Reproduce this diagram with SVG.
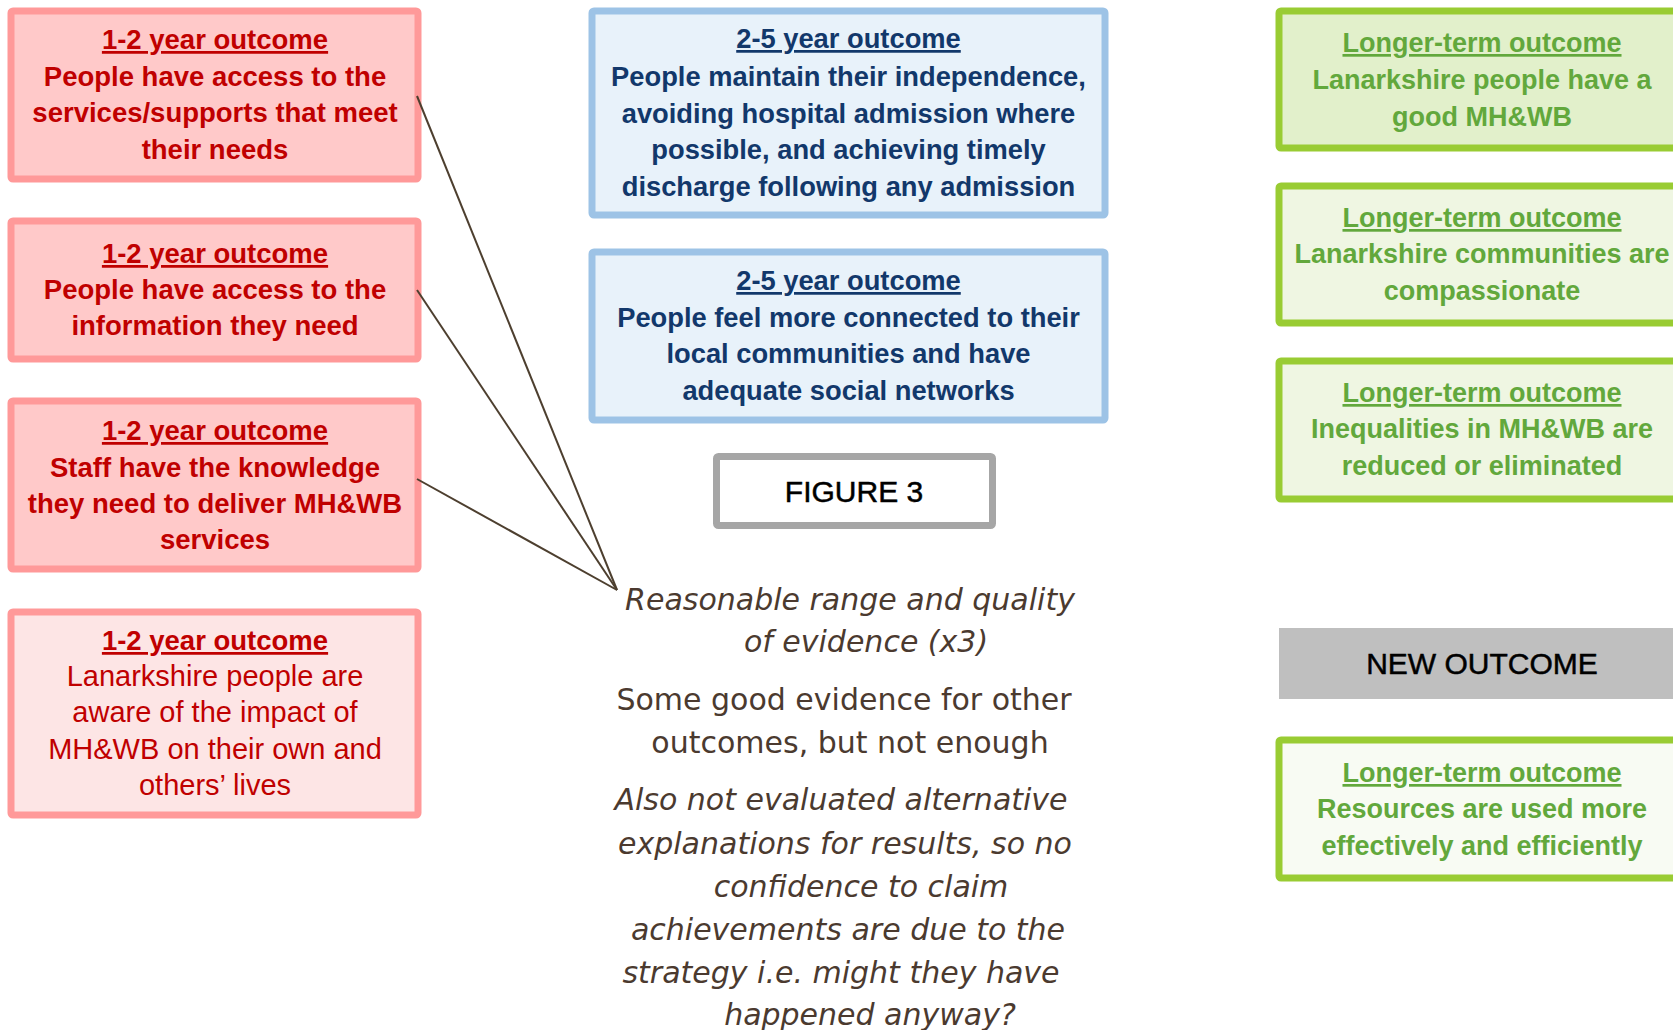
<svg xmlns="http://www.w3.org/2000/svg" width="1673" height="1030" viewBox="0 0 1673 1030">
  <style>
    text { text-anchor: middle; }
    .box { stroke-width: 7; }
    .red { fill: #FFC9C9; stroke: #FF9999; }
    .red-lt { fill: #FDE5E5; stroke: #FF9999; }
    .blue { fill: #E8F2FA; stroke: #9DC3E6; }
    .green1 { fill: #E2F0CB; stroke: #99CC33; }
    .green2 { fill: #EFF6E2; stroke: #99CC33; }
    .green3 { fill: #F8FBF3; stroke: #99CC33; }
    .t-red { font-family: "Liberation Sans", Arial, sans-serif; font-size: 27.5px; font-weight: bold; fill: #C00000; }
    .t-red-reg { font-family: "Liberation Sans", Arial, sans-serif; font-size: 29px; fill: #C00000; }
    .t-blue { font-family: "Liberation Sans", Arial, sans-serif; font-size: 27.3px; font-weight: bold; fill: #12386B; }
    .t-green { font-family: "Liberation Sans", Arial, sans-serif; font-size: 27px; font-weight: bold; fill: #62A83C; }
    .u { text-decoration: underline; }
    .t-note { font-family: "DejaVu Sans", sans-serif; font-size: 30px; fill: #4B3A2F; }
    .it { font-style: italic; }
    .t-label { font-family: "Liberation Sans", Arial, sans-serif; font-size: 30px; fill: #000000; stroke: #000000; stroke-width: 0.5; }
    .link { stroke: #4D3F2F; stroke-width: 2; fill: none; }
  </style>

  <!-- 1-2 year outcomes -->
  <g id="short-1">
    <rect class="box red" x="11" y="11" width="407" height="168" rx="2"/>
    <text class="t-red u" x="215" y="49">1-2 year outcome</text>
    <text class="t-red" x="215" y="86">People have access to the</text>
    <text class="t-red" x="215" y="122">services/supports that meet</text>
    <text class="t-red" x="215" y="159">their needs</text>
  </g>
  <g id="short-2">
    <rect class="box red" x="11" y="221" width="407" height="138" rx="2"/>
    <text class="t-red u" x="215" y="263">1-2 year outcome</text>
    <text class="t-red" x="215" y="299">People have access to the</text>
    <text class="t-red" x="215" y="335">information they need</text>
  </g>
  <g id="short-3">
    <rect class="box red" x="11" y="401" width="407" height="168" rx="2"/>
    <text class="t-red u" x="215" y="440">1-2 year outcome</text>
    <text class="t-red" x="215" y="477">Staff have the knowledge</text>
    <text class="t-red" x="215" y="513">they need to deliver MH&amp;WB</text>
    <text class="t-red" x="215" y="549">services</text>
  </g>
  <g id="short-4">
    <rect class="box red-lt" x="11" y="612" width="407" height="203" rx="2"/>
    <text class="t-red u" x="215" y="650">1-2 year outcome</text>
    <text class="t-red-reg" x="215" y="686">Lanarkshire people are</text>
    <text class="t-red-reg" x="215" y="722">aware of the impact of</text>
    <text class="t-red-reg" x="215" y="759">MH&amp;WB on their own and</text>
    <text class="t-red-reg" x="215" y="795">others’ lives</text>
  </g>

  <!-- 2-5 year outcomes -->
  <g id="mid-1">
    <rect class="box blue" x="592" y="11" width="513" height="204" rx="2"/>
    <text class="t-blue u" x="848.5" y="48">2-5 year outcome</text>
    <text class="t-blue" x="848.5" y="86">People maintain their independence,</text>
    <text class="t-blue" x="848.5" y="123">avoiding hospital admission where</text>
    <text class="t-blue" x="848.5" y="159">possible, and achieving timely</text>
    <text class="t-blue" x="848.5" y="196">discharge following any admission</text>
  </g>
  <g id="mid-2">
    <rect class="box blue" x="592" y="252" width="513" height="168" rx="2"/>
    <text class="t-blue u" x="848.5" y="290">2-5 year outcome</text>
    <text class="t-blue" x="848.5" y="327">People feel more connected to their</text>
    <text class="t-blue" x="848.5" y="363">local communities and have</text>
    <text class="t-blue" x="848.5" y="400">adequate social networks</text>
  </g>

  <!-- figure label -->
  <g id="figure-label">
    <rect x="716.5" y="456.5" width="276" height="69" fill="#FFFFFF" stroke="#A6A6A6" stroke-width="7" rx="2"/>
    <text class="t-label" x="854" y="502">FIGURE 3</text>
  </g>

  <!-- evidence note -->
  <g id="evidence-note">
    <text class="t-note it" x="850" y="610">Reasonable range and quality</text>
    <text class="t-note it" x="866" y="652">of evidence (x3)</text>
    <text class="t-note" x="844" y="710">Some good evidence for other</text>
    <text class="t-note" x="850" y="753">outcomes, but not enough</text>
    <text class="t-note it" x="841" y="810">Also not evaluated alternative</text>
    <text class="t-note it" x="845" y="854">explanations for results, so no</text>
    <text class="t-note it" x="861" y="897">confidence to claim</text>
    <text class="t-note it" x="848" y="940">achievements are due to the</text>
    <text class="t-note it" x="841" y="983">strategy i.e. might they have</text>
    <text class="t-note it" x="870" y="1025">happened anyway?</text>
  </g>

  <!-- longer-term outcomes -->
  <g id="long-1">
    <rect class="box green1" x="1279" y="11" width="420" height="137" rx="2"/>
    <text class="t-green u" x="1482" y="52">Longer-term outcome</text>
    <text class="t-green" x="1482" y="89">Lanarkshire people have a</text>
    <text class="t-green" x="1482" y="126">good MH&amp;WB</text>
  </g>
  <g id="long-2">
    <rect class="box green2" x="1279" y="186" width="420" height="137" rx="2"/>
    <text class="t-green u" x="1482" y="227">Longer-term outcome</text>
    <text class="t-green" x="1482" y="263">Lanarkshire communities are</text>
    <text class="t-green" x="1482" y="300">compassionate</text>
  </g>
  <g id="long-3">
    <rect class="box green2" x="1279" y="361" width="420" height="138" rx="2"/>
    <text class="t-green u" x="1482" y="402">Longer-term outcome</text>
    <text class="t-green" x="1482" y="438">Inequalities in MH&amp;WB are</text>
    <text class="t-green" x="1482" y="475">reduced or eliminated</text>
  </g>

  <g id="new-outcome-label">
    <rect x="1279" y="628" width="420" height="71" fill="#BFBFBF"/>
    <text class="t-label" x="1482" y="674">NEW OUTCOME</text>
  </g>

  <g id="long-4">
    <rect class="box green3" x="1279" y="740" width="420" height="138" rx="2"/>
    <text class="t-green u" x="1482" y="782">Longer-term outcome</text>
    <text class="t-green" x="1482" y="818">Resources are used more</text>
    <text class="t-green" x="1482" y="855">effectively and efficiently</text>
  </g>

  <!-- connectors: three short-term outcomes converge on the evidence note -->
  <g id="connectors">
    <line class="link" x1="417" y1="96" x2="617" y2="590"/>
    <line class="link" x1="417" y1="290" x2="617" y2="590"/>
    <line class="link" x1="417" y1="479" x2="617" y2="590"/>
  </g>
</svg>
